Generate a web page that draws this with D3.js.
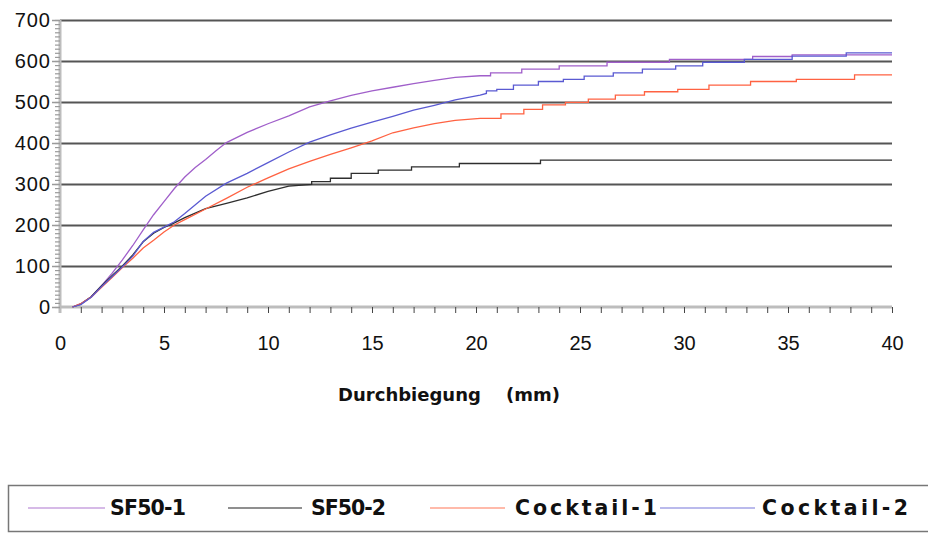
<!DOCTYPE html>
<html>
<head>
<meta charset="utf-8">
<script src="https://cdn.jsdelivr.net/npm/d3@7"></script>
<style>
body { margin: 0; background: #fff; }
svg { display: block; font-family: "DejaVu Sans", sans-serif; }
.grid line { stroke: #555; stroke-width: 2; }
.grid path { display: none; }
.axis path { display: none; }
.ylab text, .xlab text { font-size: 20px; fill: #111; }
.ylab text { letter-spacing: 1px; }
.line { fill: none; stroke-width: 1.3; }
</style>
</head>
<body>
<div class="chart"></div>
<script>
(function(){

    // ticks
    var xTicks = [0, 5, 10, 15, 20, 25, 30, 35, 40]
    var yTicks = [0, 100, 200, 300, 400, 500, 600, 700]
    var xTitle = "Durchbiegung    (mm)"

    var names = ["SF50-1", "SF50-2", "Cocktail-1", "Cocktail-2"]
    var colors = ["#a05fca", "#2e2e2e", "#ff6242", "#5a5ad2"]
    var legendColors = ["#c9a3df", "#6a6a6a", "#ffa38e", "#a3a3e6"]

    // [Durchbiegung mm, Kraft]
    var sf50_1 = [[0.6,0],[1,8],[1.5,25],[2,52],[2.5,82],[3,115],[3.5,150],[4,188],[4.5,225],[5,257],
        [5.5,289],[6,317],[6.5,340],[7,360],[7.5,381],[8,401],[9,426],[10,447],[11,466],[12,488],[13,503],
        [14,516],[15,527],[16,536],[17,545],[18,553],[19,560],[20.2,564],[20.7,564],[20.7,571],[22.2,571],
        [22.2,580],[24,580],[24,588],[26.3,588],[26.3,597],[29.3,597],[29.3,604],[33.3,604],[33.3,611],
        [35.2,611],[35.2,615],[40,615]]

    var sf50_2 = [[0.6,0],[1,7],[1.5,25],[2,52],[2.5,76],[3,100],[3.5,127],[4,159],[4.5,180],[5,194],
        [5.5,205],[6,218],[7,240],[8,253],[9,266],[10,282],[11,295],[12.1,299],[12.1,306],[13,306],
        [13,314],[14,314],[14,326],[15.3,326],[15.3,334],[16.9,334],[16.9,342],[19.2,342],[19.2,350],
        [23.1,350],[23.1,358],[40,358]]

    var cocktail_1 = [[0.6,0],[1,8],[1.5,24],[2,48],[2.5,72],[3,96],[3.5,119],[4,144],[4.5,163],[5,183],
        [5.5,200],[6,213],[7,239],[8,265],[9,292],[10,315],[11,337],[12,355],[13,372],[14,388],[15,405],
        [16,425],[17,437],[18,447],[19,455],[20.2,460],[21.2,460],[21.2,471],[22.3,471],[22.3,482],
        [23.2,482],[23.2,493],[24.3,493],[24.3,499],[25.4,499],[25.4,507],[26.7,507],[26.7,517],
        [28.1,517],[28.1,525],[29.7,525],[29.7,531],[31.2,531],[31.2,541],[33.2,541],[33.2,550],
        [35.4,550],[35.4,555],[38.2,555],[38.2,566],[40,566]]

    var cocktail_2 = [[0.6,0],[1,6],[1.5,24],[2,50],[2.5,74],[3,98],[3.5,124],[4,160],[4.5,182],[5,195],
        [5.5,208],[6,228],[7,270],[8,302],[9,326],[10,352],[11,378],[12,402],[13,420],[14,436],[15,451],
        [16,465],[17,480],[18,492],[19,505],[20.2,517],[20.5,521],[20.5,527],[21,527],[21,531],
        [21.8,531],[21.8,541],[23,541],[23,550],[24.2,550],[24.2,555],[25.2,555],[25.2,563],
        [26.6,563],[26.6,571],[28,571],[28,580],[29.6,580],[29.6,588],[30.9,588],[30.9,597],
        [32.9,597],[32.9,604],[35.2,604],[35.2,612],[37.8,612],[37.8,620],[40,620]]

    var series = [sf50_1, sf50_2, cocktail_1, cocktail_2]

    var width = 928, height = 534
    var margin = {top: 20, left: 60, right: 36, bottom: 227}
    var chartWidth = width - margin.left - margin.right
    var chartHeight = height - margin.top - margin.bottom

    var svg = d3.select(".chart").append("svg")
        .attr("width", width).attr("height", height)

    var chartLayer = svg.append("g")
        .attr("transform", "translate(" + [margin.left, margin.top] + ")")

    var x = d3.scaleLinear().domain([0, 40]).range([0, chartWidth])
    var y = d3.scaleLinear().domain([0, 700]).range([chartHeight, 0])

    // gridlines
    chartLayer.append("g").attr("class", "grid")
        .call(d3.axisLeft(y).tickValues(yTicks.slice(1)).tickSize(-chartWidth).tickFormat(""))

    // y axis: line, minor + major ticks
    chartLayer.append("line")
        .attr("x1", 0).attr("x2", 0).attr("y1", 0).attr("y2", chartHeight + 6)
        .attr("stroke", "#bdbdbd").attr("stroke-width", 3)

    chartLayer.append("g").attr("class", "axis")
        .call(d3.axisLeft(y).tickValues(d3.range(0, 701, 10)).tickSize(5).tickFormat(""))
        .selectAll("line").attr("stroke", "#9a9a9a").attr("stroke-width", 1.2)

    chartLayer.append("g").attr("class", "axis ylab")
        .call(d3.axisLeft(y).tickValues(yTicks).tickSize(8).tickPadding(1).tickFormat(d3.format("d")))
        .selectAll("line").attr("stroke", "#9a9a9a").attr("stroke-width", 1.5)

    // x axis
    chartLayer.append("line")
        .attr("x1", 0).attr("x2", chartWidth).attr("y1", chartHeight).attr("y2", chartHeight)
        .attr("stroke", "#bdbdbd").attr("stroke-width", 3)

    chartLayer.append("g").attr("class", "axis")
        .attr("transform", "translate(0," + chartHeight + ")")
        .call(d3.axisBottom(x).tickValues(d3.range(1, 41, 1)).tickSize(6).tickFormat(""))
        .selectAll("line").attr("stroke", "#444").attr("stroke-width", 1)

    chartLayer.append("g").attr("class", "axis xlab")
        .attr("transform", "translate(0," + chartHeight + ")")
        .call(d3.axisBottom(x).tickValues(xTicks).tickSize(0).tickPadding(29).tickFormat(d3.format("d")))

    chartLayer.append("text")
        .attr("x", 389).attr("y", 381)
        .attr("text-anchor", "middle")
        .style("white-space", "pre")
        .style("font-weight", "bold").style("font-size", "18px")
        .attr("fill", "#111")
        .text(xTitle)

    // lines
    var valueline = d3.line()
        .x(function(d) { return x(d[0]) })
        .y(function(d) { return y(d[1]) })

    chartLayer.selectAll(".line")
        .data(series)
        .enter().append("path")
        .attr("class", "line")
        .attr("stroke", function(d, i) { return colors[i] })
        .attr("d", valueline)

    // legend
    var legend = svg.append("g")
    legend.append("rect")
        .attr("x", 8.5).attr("y", 485.5).attr("width", 930).attr("height", 46)
        .attr("fill", "none").attr("stroke", "#777").attr("stroke-width", 1.5)

    // line start, line end, text start, text width
    var legendX = [[28, 105, 110, 76], [228, 302, 311, 75], [430, 505, 515, 142], [660, 755, 762, 146]]

    var item = legend.selectAll(".item")
        .data(names)
        .enter().append("g").attr("class", "item")

    item.append("line")
        .attr("x1", function(d, i) { return legendX[i][0] })
        .attr("x2", function(d, i) { return legendX[i][1] })
        .attr("y1", 508).attr("y2", 508)
        .attr("stroke", function(d, i) { return legendColors[i] })
        .attr("stroke-width", 1.5)

    item.append("text")
        .attr("x", function(d, i) { return legendX[i][2] })
        .attr("y", 515)
        .attr("textLength", function(d, i) { return legendX[i][3] })
        .attr("lengthAdjust", "spacing")
        .style("font-weight", "bold").style("font-size", "20.5px")
        .attr("fill", "#111")
        .text(function(d) { return d })

})();
</script>
</body>
</html>
